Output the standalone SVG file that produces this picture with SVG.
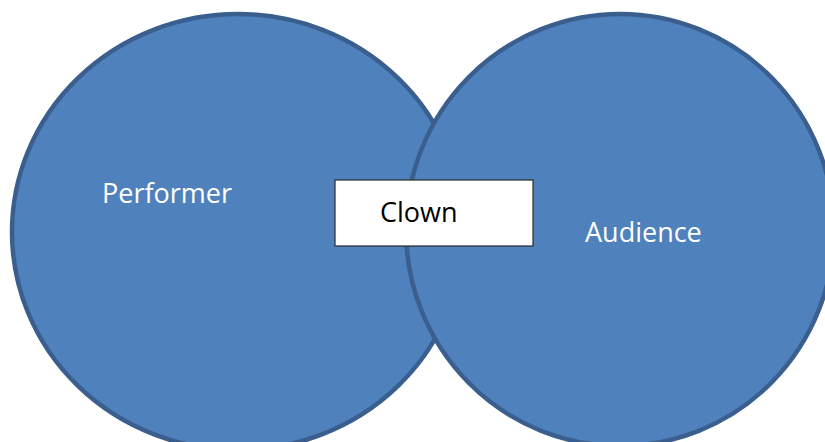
<svg xmlns="http://www.w3.org/2000/svg" width="825" height="442" viewBox="0 0 825 442">
<style>
.circle{fill:#4F81BD;stroke:#3A5F8E;stroke-width:4.5}
.lbl{font-family:"Open Sans","Liberation Sans",sans-serif;font-size:27px}
.w{fill:#FFFFFF}
.k{fill:#000000}
.box{fill:#FFFFFF;stroke:#2B2B2B;stroke-width:1.2}
</style>
<rect width="825" height="442" fill="#FFFFFF"/>
<g id="performer">
<ellipse class="circle" cx="238" cy="232" rx="226" ry="218"/>
<text class="lbl w" x="102" y="203">Performer</text>
</g>
<g id="audience">
<ellipse class="circle" cx="620" cy="230" rx="214" ry="216"/>
<text class="lbl w" x="585" y="242">Audience</text>
</g>
<g id="clown">
<rect class="box" x="335" y="180" width="198" height="66"/>
<text class="lbl k" x="380" y="222">Clown</text>
</g>
<g id="connectors"/>
</svg>
